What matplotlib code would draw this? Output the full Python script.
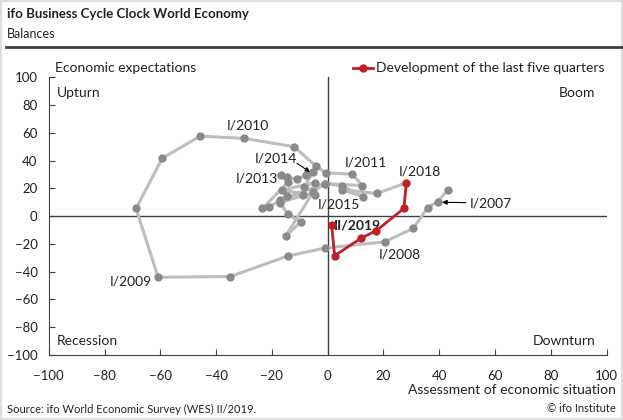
import matplotlib.pyplot as plt
from matplotlib.patches import Rectangle

plt.rcParams['font.family'] = ['Lato', 'DejaVu Sans']

# quarterly balances, I/2007 .. IV/2017 (grey), I/2018 .. II/2019 (red)
situation = [43, 39.4, 35.8, 30.7, 20.4, -1.1, -14.4, -35, -60.8, -68.7,
             -59.3, -45.7, -30, -12, -4.2, -0.7, 8.8, 12.4, -1, -17.1,
             -14.5, -21, -23.4, -14.1, -16.7, -14.7, -11.1, -7.9, -5.2, -8.4,
             -4.6, -16.5, -4.6, -8.7, -17.1, -14.3, -9.6, -15, -5.2, -1,
             5.2, 12.8, 5, 17.6]
expectations = [18.7, 10.5, 6, -8.8, -18.5, -23, -28.8, -43.5, -44, 5.5,
                41.7, 57.6, 56, 50, 36, 31.2, 30.2, 22, 23.5, 11.5,
                14.4, 6.7, 5.5, 24.7, 29.5, 28.3, 26.4, 29.5, 31.9, 21.1,
                24.2, 18.7, 15.1, 15.1, 9.6, 1.4, -4.1, -14.2, 17.5, 23.5,
                21.8, 13.9, 19, 16.3]

recent_situation = [28.2, 27.3, 17.4, 12, 2.5, 1.4]
recent_expectations = [24, 5.5, -10.5, -15.8, -28.5, -6.5]

ticks = list(range(-100, 101, 20))

fig = plt.figure(figsize=(6.23, 4.20), dpi=100)
ax = fig.add_axes([0.0782, 0.1548, 0.8956, 0.6612])

grey_line = '#bdbdbd'
grey_dot = '#8a8a8a'
red = '#c0202a'
dark = '#404040'
txt_c = '#222222'

ax.plot(situation, expectations, color=grey_line, lw=2.2, zorder=2)
ax.plot(situation, expectations, 'o', color=grey_dot, ms=5, zorder=3)
ax.plot([situation[-1], recent_situation[0]], [expectations[-1], recent_expectations[0]],
        color=grey_line, lw=2.2, zorder=2)
ax.plot(recent_situation, recent_expectations, '-o', color=red, lw=2, ms=5, zorder=4)

ax.axhline(0, color=dark, lw=1, zorder=1)
ax.axvline(0, color=dark, lw=1, zorder=1)

ax.set_xlim(-100, 100)
ax.set_ylim(-100, 100)
ax.set_xticks(ticks)
ax.set_yticks(ticks)
ax.tick_params(direction='in', length=4, color=dark, labelsize=9.5, labelcolor=txt_c)
ax.tick_params(axis='x', pad=11)
ax.tick_params(axis='y', pad=8)
for s in ['top', 'right']:
    ax.spines[s].set_visible(False)
for s in ['left', 'bottom']:
    ax.spines[s].set_color(dark)

fs = 10
ax.text(-97, 89, 'Upturn', fontsize=fs, va='center', color=txt_c)
ax.text(96, 89, 'Boom', fontsize=fs, va='center', ha='right', color=txt_c)
ax.text(-97, -90, 'Recession', fontsize=fs, va='center', color=txt_c)
ax.text(96, -90, 'Downturn', fontsize=fs, va='center', ha='right', color=txt_c)

labels = [('I/2010', -28.6, 65.5), ('I/2014', -18.5, 41.7), ('I/2013', -25.3, 27.3),
          ('I/2011', 13.7, 38.8), ('I/2018', 33, 32.4), ('I/2015', 4, 8.6),
          ('I/2008', 25.9, -27.3), ('I/2009', -70.5, -46.8)]
for txt, x, y in labels:
    ax.text(x, y, txt, fontsize=fs, ha='center', va='center', color=txt_c)
ax.text(2.3, -6.5, 'II/2019', fontsize=fs, fontweight='bold', va='center', color=txt_c)
ax.annotate('I/2007', xy=(41, 10), xytext=(51, 9.4), fontsize=fs, va='center',
            color=txt_c, arrowprops=dict(arrowstyle='-|>', color='black', lw=0.8,
                                         mutation_scale=7, shrinkA=1, shrinkB=0))
ax.annotate('', xy=(-6.3, 31.7), xytext=(-11, 38),
            arrowprops=dict(arrowstyle='-|>', color='black', lw=0.8, mutation_scale=7,
                            shrinkA=0, shrinkB=0))

# texts outside the plot area
fig.text(7 / 623, 1 - 14 / 420, 'ifo Business Cycle Clock World Economy', fontsize=9.5,
         fontweight='bold', va='center', color=txt_c)
fig.text(7 / 623, 1 - 34 / 420, 'Balances', fontsize=9, va='center', color=txt_c)
fig.add_artist(plt.Line2D([6 / 623, 1], [1 - 47 / 420] * 2, color=dark, lw=2))
fig.text(55 / 623, 1 - 68 / 420, 'Economic expectations', fontsize=fs, va='center', color=txt_c)
fig.add_artist(plt.Line2D([353 / 623, 373 / 623], [1 - 68 / 420] * 2, color=red, lw=2))
fig.add_artist(plt.Line2D([363 / 623], [1 - 68 / 420], color=red, marker='o', ms=5))
fig.text(376 / 623, 1 - 68 / 420, 'Development of the last five quarters', fontsize=fs,
         va='center', color=txt_c)
fig.text(616 / 623, 1 - 390 / 420, 'Assessment of economic situation', fontsize=fs,
         va='center', ha='right', color=txt_c)
fig.text(7 / 623, 1 - 409 / 420, 'Source: ifo World Economic Survey (WES) II/2019.',
         fontsize=8, va='center', color=txt_c)
fig.text(616 / 623, 1 - 409 / 420, '© ifo Institute', fontsize=8, va='center', ha='right',
         color=txt_c)
fig.add_artist(Rectangle((0, 0), 1, 1, transform=fig.transFigure, fill=False,
                         edgecolor='#dddddd', lw=3))

fig.savefig('out.png', dpi=100)
